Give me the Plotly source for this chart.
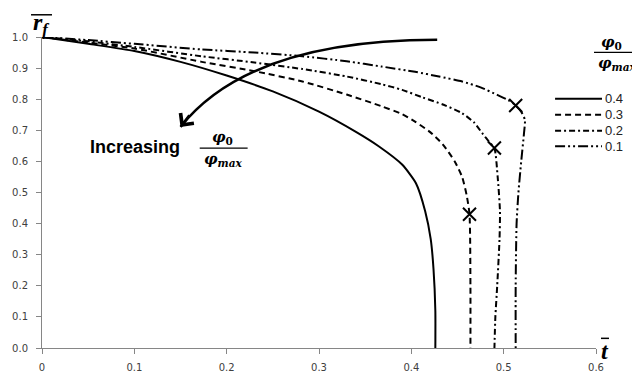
import plotly.graph_objects as go

# ---------------- data ----------------
t_04 = [0, 0.05, 0.10, 0.15, 0.20, 0.25, 0.30, 0.34, 0.365, 0.39, 0.405, 0.415, 0.421, 0.424, 0.426, 0.426]
r_04 = [1.0, 0.978, 0.955, 0.92, 0.876, 0.825, 0.76, 0.695, 0.648, 0.59, 0.53, 0.44, 0.35, 0.255, 0.12, 0.0]

t_03 = [0, 0.05, 0.10, 0.173, 0.23, 0.282, 0.33, 0.368, 0.39, 0.404, 0.42, 0.434, 0.447, 0.455, 0.460, 0.463, 0.464, 0.464]
r_03 = [1.0, 0.982, 0.963, 0.92, 0.89, 0.857, 0.815, 0.777, 0.752, 0.728, 0.695, 0.655, 0.60, 0.55, 0.49, 0.43, 0.2, 0.0]

t_02 = [0, 0.05, 0.10, 0.173, 0.23, 0.282, 0.33, 0.368, 0.39, 0.412, 0.435, 0.455, 0.468, 0.477, 0.485, 0.490, 0.4935, 0.496, 0.4955, 0.493, 0.491, 0.490]
r_02 = [1.0, 0.986, 0.968, 0.938, 0.918, 0.897, 0.873, 0.848, 0.83, 0.806, 0.782, 0.755, 0.725, 0.69, 0.66, 0.643, 0.55, 0.44, 0.35, 0.2, 0.1, 0.0]

t_01 = [0, 0.05, 0.10, 0.173, 0.23, 0.282, 0.33, 0.368, 0.404, 0.43, 0.455, 0.475, 0.493, 0.505, 0.513, 0.519, 0.523, 0.522, 0.519, 0.516, 0.514, 0.513, 0.513]
r_01 = [1.0, 0.99, 0.978, 0.96, 0.95, 0.938, 0.922, 0.905, 0.888, 0.873, 0.857, 0.838, 0.814, 0.797, 0.78, 0.76, 0.733, 0.69, 0.6, 0.5, 0.4, 0.2, 0.0]

marker_t = [0.463, 0.490, 0.513]
marker_r = [0.43, 0.643, 0.78]

series_labels = ["0.4", "0.3", "0.2", "0.1"]
x_tickvals = [0, 0.1, 0.2, 0.3, 0.4, 0.5, 0.6]
x_ticktext = ["0", "0.1", "0.2", "0.3", "0.4", "0.5", "0.6"]
y_tickvals = [0, 0.1, 0.2, 0.3, 0.4, 0.5, 0.6, 0.7, 0.8, 0.9, 1.0]
y_ticktext = ["0.0", "0.1", "0.2", "0.3", "0.4", "0.5", "0.6", "0.7", "0.8", "0.9", "1.0"]

# arrow annotation path (data coords)
arrow_start = (0.428, 0.991)
arrow_ctrl = (0.225, 0.991)
arrow_tip = (0.150, 0.711)

# ---------------- styling ----------------
W, H = 632, 385
L, R, T, B = 41, 36, 37, 26
PW, PH = W - L - R, H - T - B

def px(x):
    return (x - L) / PW

def py(y):
    return (H - B - y) / PH

dashes = ["solid", "6px,4px", "6px,3px,2px,3px", "10px,3px,2px,3px,2px,3px"]
series = [(t_04, r_04), (t_03, r_03), (t_02, r_02), (t_01, r_01)]

fig = go.Figure()
for (tt, rr), d, lab in zip(series, dashes, series_labels):
    fig.add_trace(go.Scatter(x=tt, y=rr, mode="lines", name=lab,
                             line=dict(color="black", width=2, dash=d, shape="spline", smoothing=0.6),
                             showlegend=False))

fig.add_trace(go.Scatter(x=marker_t, y=marker_r, mode="markers", showlegend=False,
                         marker=dict(symbol="x-thin-open", size=13, color="black",
                                     line=dict(color="black", width=2))))

shapes = []
annotations = []

# curved arrow
shapes.append(dict(type="path", xref="x", yref="y",
                   path=f"M {arrow_start[0]},{arrow_start[1]} Q {arrow_ctrl[0]},{arrow_ctrl[1]} {arrow_tip[0]},{arrow_tip[1]}",
                   line=dict(color="black", width=2.5)))
annotations.append(dict(x=arrow_tip[0], y=arrow_tip[1], xref="x", yref="y", text="",
                        showarrow=True, arrowhead=4, arrowsize=1.3, arrowwidth=2.5,
                        arrowcolor="black", ax=10, ay=-13))

# "Increasing phi0/phimax"
annotations.append(dict(x=px(181), y=py(151), xref="paper", yref="paper", text="<b>Increasing</b>",
                        showarrow=False, xanchor="right", yanchor="middle",
                        font=dict(family="Liberation Sans", size=18, color="black")))
shapes.append(dict(type="line", xref="paper", yref="paper", x0=px(199), x1=px(247), y0=py(152), y1=py(152),
                   line=dict(color="black", width=1.2)))
annotations.append(dict(x=px(222), y=py(141), xref="paper", yref="paper",
                        text="<b><i>φ</i><sub>0</sub></b>", showarrow=False, xanchor="center", yanchor="middle",
                        font=dict(family="DejaVu Serif", size=15, color="black")))
annotations.append(dict(x=px(222), y=py(164), xref="paper", yref="paper",
                        text="<b><i>φ</i><sub><i>max</i></sub></b>", showarrow=False, xanchor="center", yanchor="middle",
                        font=dict(family="DejaVu Serif", size=15, color="black")))

# legend title
shapes.append(dict(type="line", xref="paper", yref="paper", x0=px(594), x1=px(640), y0=py(53), y1=py(53),
                   line=dict(color="black", width=1.2)))
annotations.append(dict(x=px(612), y=py(43), xref="paper", yref="paper",
                        text="<b><i>φ</i><sub>0</sub></b>", showarrow=False, xanchor="center", yanchor="middle",
                        font=dict(family="DejaVu Serif", size=15, color="black")))
annotations.append(dict(x=px(596), y=py(64), xref="paper", yref="paper",
                        text="<b><i>φ</i><sub><i>max</i></sub></b>", showarrow=False, xanchor="left", yanchor="middle",
                        font=dict(family="DejaVu Serif", size=15, color="black")))

# legend entries
leg_y = [101, 117.5, 134, 150]
for lab, d, yy in zip(series_labels, dashes, leg_y):
    shapes.append(dict(type="line", xref="paper", yref="paper", x0=px(555), x1=px(602), y0=py(yy), y1=py(yy),
                       line=dict(color="black", width=2, dash=d)))
    annotations.append(dict(x=px(603), y=py(yy), xref="paper", yref="paper", text=lab, showarrow=False,
                            xanchor="left", yanchor="middle",
                            font=dict(family="Liberation Sans", size=13, color="#222222")))

# axis titles
shapes.append(dict(type="line", xref="paper", yref="paper", x0=px(30), x1=px(51), y0=py(14), y1=py(14),
                   line=dict(color="black", width=1.5)))
annotations.append(dict(x=px(30), y=py(24), xref="paper", yref="paper",
                        text="<b><i>r</i><sub><i>f</i></sub></b>", showarrow=False, xanchor="left", yanchor="middle",
                        font=dict(family="Liberation Serif", size=24, color="black")))
shapes.append(dict(type="line", xref="paper", yref="paper", x0=px(601), x1=px(609), y0=py(349), y1=py(349),
                   line=dict(color="black", width=1.5)))
annotations.append(dict(x=px(605), y=py(362), xref="paper", yref="paper",
                        text="<b><i>t</i></b>", showarrow=False, xanchor="center", yanchor="middle",
                        font=dict(family="Liberation Serif", size=24, color="black")))

axis_common = dict(showgrid=False, zeroline=False, showline=True, linecolor="#868686", linewidth=1,
                   ticks="outside", ticklen=5, tickcolor="#868686", tickwidth=1,
                   tickfont=dict(family="DejaVu Sans", size=10, color="#404040"))

fig.update_layout(
    width=W, height=H,
    margin=dict(l=L, r=R, t=T, b=B),
    paper_bgcolor="white", plot_bgcolor="white",
    xaxis=dict(range=[0, 0.6], tickvals=x_tickvals, ticktext=x_ticktext, ticklabelstandoff=5, **axis_common),
    yaxis=dict(range=[0, 1.0], tickvals=y_tickvals, ticktext=y_ticktext, ticklabelstandoff=6, **axis_common),
    shapes=shapes, annotations=annotations,
    showlegend=False,
)

fig.write_html("out.html")
